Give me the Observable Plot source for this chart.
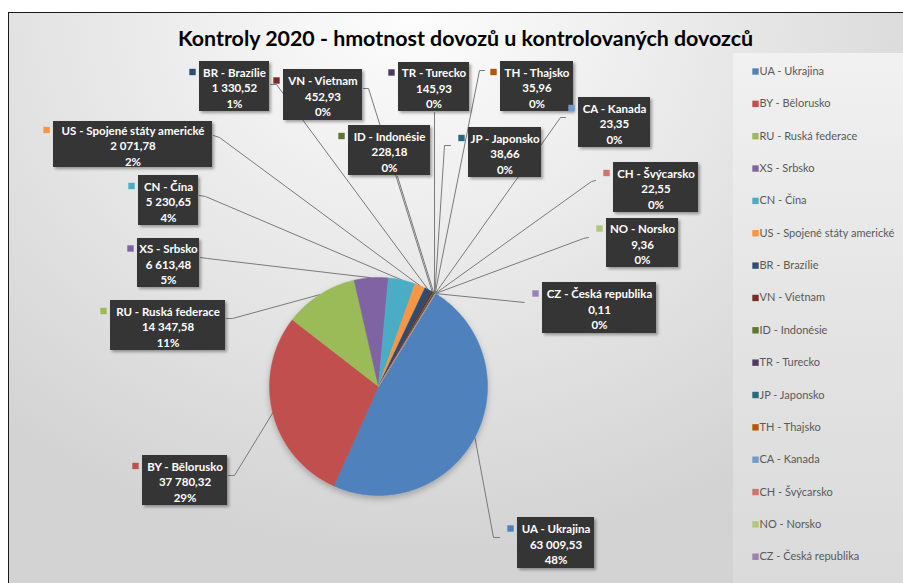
<!DOCTYPE html>
<html>
<head>
<meta charset="utf-8">
<script src="https://cdn.jsdelivr.net/npm/d3@7"></script>
<script src="https://cdn.jsdelivr.net/npm/@observablehq/plot@0.6"></script>
<style>
  body { margin: 0; background: #fff; }
  #wrap { position: relative; width: 903px; height: 583px; overflow: hidden; background: #fff; }
  #bg { position: absolute; left: 8px; top: 12px; right: 0; bottom: 0;
        border-left: 1.5px solid #1a1a1a; border-top: 1.5px solid #1a1a1a;
        background: radial-gradient(ellipse 70% 95% at 45% 0%, #fdfdfd 0%, #ececec 40%, #d3d3d3 100%); }
  #legendPanel { position: absolute; left: 733px; top: 53px; right: 0; bottom: 0;
        background: linear-gradient(to bottom, #f1f1f1 0%, #e4e4e4 50%, #dadada 100%); }
  #chart { position: absolute; left: 0; top: 0; }
</style>
</head>
<body>
<div id="wrap">
  <div id="bg"></div>
  <div id="legendPanel"></div>
  <div id="chart"></div>
</div>
<script>
// ---- data ----
const codes  = ["UA","BY","RU","XS","CN","US","BR","VN","ID","TR","JP","TH","CA","CH","NO","CZ"];
const names  = ["Ukrajina","Bělorusko","Ruská federace","Srbsko","Čína","Spojené státy americké","Brazílie","Vietnam","Indonésie","Turecko","Japonsko","Thajsko","Kanada","Švýcarsko","Norsko","Česká republika"];
const values = [63009.53, 37780.32, 14347.58, 6613.48, 5230.65, 2071.78, 1330.52, 452.93, 228.18, 145.93, 38.66, 35.96, 23.35, 22.55, 9.36, 0.11];
const colors = ["#4F81BD","#C0504D","#9BBB59","#8064A2","#4BACC6","#F79646","#2C4D75","#772C2A","#5F7530","#4D3B62","#276A7C","#B65708","#729ACA","#CD7371","#AFC97A","#9983B5"];
const titleText = "Kontroly 2020 - hmotnost dovozů u kontrolovaných dovozců";

// ---- layout (pixel space): label box [x1,y1,x2,y2], leader anchor [ax,ay], bend [bx,by] ----
const labelBoxes = [
  [517,517,594,568, 499,537, 493,537],
  [142,455,227,505, 228,475, 234,475],
  [110,300,225,350, 226,318, 232,318],
  [137,238,199,287, 200,257, 207,258],
  [138,175,198,225, 199,195, 205,196],
  [ 53,121,212,167, 213,135, 219,137],
  [199, 61,269,111, 270, 84, 276, 84],
  [283, 69,362,120, 363, 88, 368, 88],
  [348,125,430,175, 397,176, 397,176],
  [398, 62,469,111, 434,112, 434,112],
  [468,127,541,177, 450,145, 444,145],
  [500, 61,573,111, 484, 70, 479, 70],
  [578, 97,650,147, 565,117, 560,117],
  [613,162,698,212, 595,180, 591,181],
  [606,218,678,267, 588,237, 583,238],
  [542,282,656,333, 524,302, 524,302]
];
const pie = {cx: 378, cy: 386, r: 109, startDeg: 31.5};
const legendLayout = {x: 755, y0: 71, dy: 32.35};

// ---- derived ----
const total = d3.sum(values);
const fmtNum = d3.formatLocale({decimal: ",", thousands: "\u00a0", grouping: [3]}).format(",.2f");
const rad = d => d * Math.PI / 180;
const px = a => pie.cx + pie.r * Math.sin(rad(a));
const py = a => pie.cy - pie.r * Math.cos(rad(a));

let cum = 0;
const slices = codes.map((c, i) => {
  const a0 = pie.startDeg + cum / total * 360;
  cum += values[i];
  const a1 = pie.startDeg + cum / total * 360;
  return {key: c, label: `${c} - ${names[i]}`, value: values[i], color: colors[i], a0, a1, mid: (a0 + a1) / 2,
          pct: Math.round(values[i] / total * 100) + "%"};
});

const slicePts = [];
for (const s of slices) {
  slicePts.push({key: s.key, color: s.color, x: pie.cx, y: pie.cy});
  const n = Math.max(2, Math.ceil((s.a1 - s.a0) / 0.5));
  for (let k = 0; k <= n; k++) {
    const a = s.a0 + (s.a1 - s.a0) * k / n;
    slicePts.push({key: s.key, color: s.color, x: px(a), y: py(a)});
  }
  slicePts.push({key: s.key, color: s.color, x: pie.cx, y: pie.cy});
}

const labels = slices.map((s, i) => {
  const [x1, y1, x2, y2, ax, ay, bx, by] = labelBoxes[i];
  return {...s, x1, y1, x2, y2, ax, ay, bx, by, tx: (x1 + x2) / 2, ty: (y1 + y2) / 2 + 1,
          text: `${s.label}\n${fmtNum(s.value)}\n${s.pct}`};
});

const leaderPts = [];
for (const l of labels) {
  leaderPts.push({key: l.key, x: l.ax, y: l.ay});
  leaderPts.push({key: l.key, x: l.bx, y: l.by});
  leaderPts.push({key: l.key, x: px(l.mid), y: py(l.mid)});
}

const legendItems = slices.map((s, i) => ({...s, lx: legendLayout.x, ly: legendLayout.y0 + i * legendLayout.dy}));

const FONT = "Lato, 'Open Sans', sans-serif";

const chart = Plot.plot({
  width: 903, height: 583, margin: 0,
  style: {background: "transparent", fontFamily: FONT},
  x: {domain: [0, 903], range: [0, 903], axis: null},
  y: {domain: [0, 583], range: [0, 583], axis: null},
  marks: [
    Plot.text([titleText], {x: 465, y: 39, text: d => d, fontSize: 21.4, fontWeight: "bold", fill: "#000", fontFamily: FONT}),
    Plot.line(leaderPts, {x: "x", y: "y", z: "key", stroke: "#7a7a7a", strokeWidth: 1, curve: "linear"}),
    Plot.line(slicePts, {x: "x", y: "y", z: "key", fill: "color", stroke: "color", strokeWidth: 0.5, curve: "linear"}),
    Plot.rect(labels, {x1: "x1", x2: "x2", y1: "y1", y2: "y2", fill: "#363636"}),
    Plot.dot(labels, {x: d => d.x1 - 7, y: d => d.ty - 15.5, symbol: "square", r: 3.6, fill: "color", stroke: "none"}),
    Plot.text(labels, {x: "tx", y: "ty", text: "text", fill: "#fff", fontSize: 11.5, fontWeight: "bold", lineHeight: 1.35, fontFamily: FONT}),
    Plot.dot(legendItems, {x: "lx", y: "ly", symbol: "square", r: 3.6, fill: "color", stroke: "none"}),
    Plot.text(legendItems, {x: d => d.lx + 4, y: "ly", text: "label", textAnchor: "start", fontSize: 11, fill: "#595959", fontFamily: FONT})
  ]
});

// drop shadows
const svg = d3.select(chart);
const defs = svg.insert("defs", ":first-child");
const f = defs.append("filter").attr("id", "shadow").attr("x", "-20%").attr("y", "-20%").attr("width", "140%").attr("height", "140%");
f.append("feDropShadow").attr("dx", 2).attr("dy", 2).attr("stdDeviation", 1.5).attr("flood-color", "#000").attr("flood-opacity", 0.35);
svg.selectAll('g[aria-label="rect"]').attr("filter", "url(#shadow)");
const f2 = defs.append("filter").attr("id", "pieshadow").attr("x", "-20%").attr("y", "-20%").attr("width", "140%").attr("height", "140%");
f2.append("feDropShadow").attr("dx", 0).attr("dy", 3).attr("stdDeviation", 3).attr("flood-color", "#000").attr("flood-opacity", 0.25);
svg.selectAll('g[aria-label="line"]').filter((d, i) => i === 1).attr("filter", "url(#pieshadow)");

document.getElementById("chart").appendChild(chart);
</script>
</body>
</html>
